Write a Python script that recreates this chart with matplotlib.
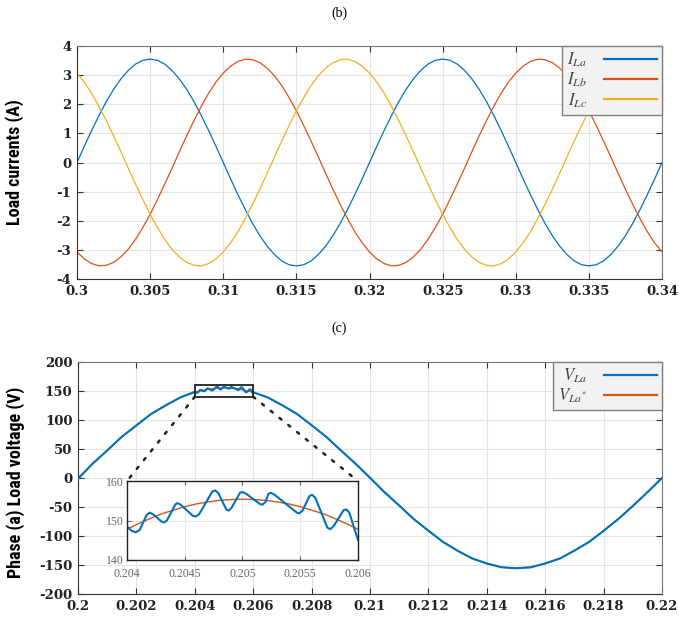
import numpy as np
import matplotlib
matplotlib.use("Agg")
import matplotlib.pyplot as plt
from matplotlib.patches import Rectangle, ConnectionPatch

plt.rcParams['axes.unicode_minus'] = False
plt.rcParams['mathtext.fontset'] = 'stix'

# ---- (b) load currents, sampled every 0.5 ms ----
t_cur = np.linspace(0.3, 0.34, 81)
i_la = [0, 0.56, 1.10, 1.61, 2.09, 2.51, 2.87, 3.16, 3.38, 3.51, 3.55, 3.51, 3.38, 3.16, 2.87, 2.51, 2.09,
        1.61, 1.10, 0.56, 0, -0.56, -1.10, -1.61, -2.09, -2.51, -2.87, -3.16, -3.38, -3.51, -3.55, -3.51,
        -3.38, -3.16, -2.87, -2.51, -2.09, -1.61, -1.10, -0.56, 0,
        0.56, 1.10, 1.61, 2.09, 2.51, 2.87, 3.16, 3.38, 3.51, 3.55, 3.51, 3.38, 3.16, 2.87, 2.51, 2.09,
        1.61, 1.10, 0.56, 0, -0.56, -1.10, -1.61, -2.09, -2.51, -2.87, -3.16, -3.38, -3.51, -3.55, -3.51,
        -3.38, -3.16, -2.87, -2.51, -2.09, -1.61, -1.10, -0.56, 0]
i_lb = [-3.07, -3.31, -3.47, -3.55, -3.53, -3.43, -3.24, -2.98, -2.64, -2.23, -1.78, -1.27, -0.74, -0.19,
        0.37, 0.92, 1.44, 1.93, 2.38, 2.76, 3.07, 3.31, 3.47, 3.55, 3.53, 3.43, 3.24, 2.98, 2.64, 2.23,
        1.78, 1.27, 0.74, 0.19, -0.37, -0.92, -1.44, -1.93, -2.38, -2.76, -3.07,
        -3.31, -3.47, -3.55, -3.53, -3.43, -3.24, -2.98, -2.64, -2.23, -1.78, -1.27, -0.74, -0.19,
        0.37, 0.92, 1.44, 1.93, 2.38, 2.76, 3.07, 3.31, 3.47, 3.55, 3.53, 3.43, 3.24, 2.98, 2.64, 2.23,
        1.78, 1.27, 0.74, 0.19, -0.37, -0.92, -1.44, -1.93, -2.38, -2.76, -3.07]
i_lc = [3.07, 2.76, 2.38, 1.93, 1.44, 0.92, 0.37, -0.19, -0.74, -1.27, -1.78, -2.23, -2.64, -2.98, -3.24,
        -3.43, -3.53, -3.55, -3.47, -3.31, -3.07, -2.76, -2.38, -1.93, -1.44, -0.92, -0.37, 0.19, 0.74,
        1.27, 1.78, 2.23, 2.64, 2.98, 3.24, 3.43, 3.53, 3.55, 3.47, 3.31, 3.07,
        2.76, 2.38, 1.93, 1.44, 0.92, 0.37, -0.19, -0.74, -1.27, -1.78, -2.23, -2.64, -2.98, -3.24,
        -3.43, -3.53, -3.55, -3.47, -3.31, -3.07, -2.76, -2.38, -1.93, -1.44, -0.92, -0.37, 0.19, 0.74,
        1.27, 1.78, 2.23, 2.64, 2.98, 3.24, 3.43, 3.53, 3.55, 3.47, 3.31, 3.07]

# ---- (c) phase voltage ----
t_v = np.linspace(0.2, 0.22, 41)
v_ref = [0, 24.3, 48.0, 70.6, 91.3, 109.9, 125.7, 138.5, 147.8, 153.5, 155.4, 153.5, 147.8, 138.5, 125.7,
         109.9, 91.3, 70.6, 48.0, 24.3, 0, -24.3, -48.0, -70.6, -91.3, -109.9, -125.7, -138.5, -147.8,
         -153.5, -155.4, -153.5, -147.8, -138.5, -125.7, -109.9, -91.3, -70.6, -48.0, -24.3, 0]
v_la = [-1.5, 24.8, 47.5, 71.2, 90.6, 110.4, 125.0, 139.0, 148.5, 153.5, 155.4, 153.5, 147.8, 138.9,
        125.2, 110.5, 90.9, 71.1, 47.6, 24.9, 0.5, -24.8, -47.4, -71.0, -90.8, -110.3, -125.4, -138.8,
        -147.3, -154.0, -155.6, -154.2, -147.2, -138.9, -125.1, -110.4, -91.0, -70.9, -48.3, -24.6, 0]

# zoomed window 0.204 - 0.206
t_zoom_ref = np.linspace(0.204, 0.206, 21)
v_zoom_ref = [147.8, 149.2, 150.5, 151.7, 152.6, 153.5, 154.2, 154.7, 155.1, 155.3, 155.4,
              155.3, 155.1, 154.7, 154.2, 153.5, 152.6, 151.7, 150.5, 149.2, 147.8]
t_zoom = [0.204000, 0.204040, 0.204075, 0.204110, 0.204170, 0.204197, 0.204230, 0.204300, 0.204321,
          0.204345, 0.204420, 0.204437, 0.204465, 0.204570, 0.204596, 0.204625, 0.204740, 0.204764,
          0.204790, 0.204860, 0.204880, 0.204905, 0.204980, 0.205001, 0.205030, 0.205150, 0.205172,
          0.205200, 0.205225, 0.205245, 0.205275, 0.205470, 0.205491, 0.205520, 0.205580, 0.205603,
          0.205630, 0.205735, 0.205760, 0.205790, 0.205875, 0.205899, 0.205925, 0.206000]
v_zoom = [148.5, 147.4, 147.0, 147.6, 151.4, 152.0, 151.5, 149.7, 149.5, 150.0, 154.1, 154.4,
          154.0, 151.2, 151.0, 151.6, 157.4, 157.6, 157.0, 152.8, 152.5, 153.2, 157.1, 157.2,
          156.8, 154.2, 154.0, 154.7, 156.8, 157.0, 156.6, 152.0, 151.8, 152.5, 156.2, 156.5,
          155.8, 148.2, 147.8, 148.6, 152.6, 152.8, 152.0, 145.1]

blue = '#0072BD'
red = '#D95319'
yellow = '#EDB120'
label_font = ['Liberation Sans Narrow', 'Roboto Condensed', 'DejaVu Sans']


def style_axes(ax):
    ax.grid(True, color='#e3e3e3', linewidth=0.8)
    ax.set_axisbelow(True)
    ax.tick_params(direction='in', length=4, top=True, right=True, colors='#333333', pad=4)
    for s in ax.spines.values():
        s.set_color('#777777')
        s.set_linewidth(0.8)
    ax.spines['left'].set_color('#333333')
    ax.spines['bottom'].set_color('#333333')
    for lbl in ax.get_xticklabels() + ax.get_yticklabels():
        lbl.set_fontfamily('DejaVu Serif')
        lbl.set_fontweight('bold')
        lbl.set_fontsize(9.5)
        lbl.set_color('#222222')


def style_legend(leg):
    for txt in leg.get_texts():
        txt.set_color('#444444')
    for ln in leg.get_lines():
        ln.set_linewidth(1.6)


fig = plt.figure(figsize=(6.79, 6.17), dpi=100)

# ---------------- top: load currents ----------------
ax1 = fig.add_axes([0.1134, 0.5478, 0.8616, 0.3776])
ax1.plot(t_cur, i_la, color=blue, lw=0.9, label=r'$I_{La}$')
ax1.plot(t_cur, i_lb, color=red, lw=0.9, label=r'$I_{Lb}$')
ax1.plot(t_cur, i_lc, color=yellow, lw=0.9, label=r'$I_{Lc}$')
ax1.set_xlim(0.3, 0.34)
ax1.set_ylim(-4, 4)
ax1.set_xticks([0.3, 0.305, 0.31, 0.315, 0.32, 0.325, 0.33, 0.335, 0.34])
ax1.set_xticklabels(['0.3', '0.305', '0.31', '0.315', '0.32', '0.325', '0.33', '0.335', '0.34'])
ax1.set_yticks(range(-4, 5))
style_axes(ax1)
leg1 = ax1.legend(loc='upper right', borderaxespad=0, markerfirst=False, fancybox=False,
                  facecolor='#f2f2f2', edgecolor='#808080', framealpha=1, fontsize=12,
                  handlelength=3.2, labelspacing=0.1, borderpad=0.3, handletextpad=1.0)
style_legend(leg1)

fig.text(0.5, 0.979, '(b)', ha='center', va='center', family='Liberation Serif', fontsize=10)
fig.text(0.021, 0.7374, 'Load currents (A)', rotation=90, ha='center', va='center',
         family=label_font, fontweight='bold', fontstretch='condensed', fontsize=13)

# ---------------- bottom: phase voltage ----------------
ax2 = fig.add_axes([0.1149, 0.0373, 0.8601, 0.376])
t_va = np.asarray(t_v)
v_la_arr = np.asarray(v_la, dtype=float)
keep = (t_va < 0.204) | (t_va > 0.206)
t_full = np.concatenate([t_va[keep], t_zoom])
v_full = np.concatenate([v_la_arr[keep], v_zoom])
order = np.argsort(t_full)
ax2.plot(t_v, v_ref, color=red, lw=1.0, zorder=2)
ax2.plot(t_full[order], v_full[order], color=blue, lw=1.5, zorder=3, label=r'$V_{La}$')
ax2.plot([], [], color=red, lw=1.6, label=r'$V_{La^{*}}$')
ax2.set_xlim(0.2, 0.22)
ax2.set_ylim(-200, 200)
ax2.set_xticks([0.2, 0.202, 0.204, 0.206, 0.208, 0.21, 0.212, 0.214, 0.216, 0.218, 0.22])
ax2.set_xticklabels(['0.2', '0.202', '0.204', '0.206', '0.208', '0.21', '0.212', '0.214',
                     '0.216', '0.218', '0.22'])
ax2.set_yticks(range(-200, 201, 50))
style_axes(ax2)
leg2 = ax2.legend(loc='upper right', borderaxespad=0, markerfirst=False, fancybox=False,
                  facecolor='#f2f2f2', edgecolor='#808080', framealpha=1, fontsize=12,
                  handlelength=3.2, labelspacing=0.1, borderpad=0.3, handletextpad=1.0)
style_legend(leg2)

ax2.add_patch(Rectangle((0.204, 140), 0.002, 20, fill=False, edgecolor='#222222', lw=1.3, zorder=4))

fig.text(0.5, 0.468, '(c)', ha='center', va='center', family='Liberation Serif', fontsize=10)
fig.text(0.023, 0.219, 'Phase (a) Load voltage (V)', rotation=90, ha='center', va='center',
         family=label_font, fontweight='bold', fontstretch='condensed', fontsize=13)

# inset
axi = fig.add_axes([0.187, 0.0924, 0.3402, 0.128])
axi.plot(t_zoom_ref, v_zoom_ref, color=red, lw=1.0)
axi.plot(t_zoom, v_zoom, color=blue, lw=1.5)
axi.set_xlim(0.204, 0.206)
axi.set_ylim(140, 160)
axi.set_xticks([0.204, 0.2045, 0.205, 0.2055, 0.206])
axi.set_xticklabels(['0.204', '0.2045', '0.205', '0.2055', '0.206'])
axi.set_yticks([140, 150, 160])
axi.grid(True, color='#e8e8e8', linewidth=0.7)
axi.tick_params(direction='in', length=3, top=True, right=True, pad=2, colors='#666666')
axi.tick_params(axis='x', pad=6)
for lbl in axi.get_xticklabels() + axi.get_yticklabels():
    lbl.set_fontfamily('Liberation Serif')
    lbl.set_fontsize(8.5)
for s in axi.spines.values():
    s.set_color('#222222')
    s.set_linewidth(1.0)

for x0 in (0.204, 0.206):
    con = ConnectionPatch(xyA=(x0, 140), coordsA=ax2.transData,
                          xyB=(x0, 160), coordsB=axi.transData,
                          linestyle=(0, (1, 3.5)), color='#222222', lw=1.8)
    fig.add_artist(con)

fig.savefig('out.png', dpi=100)
